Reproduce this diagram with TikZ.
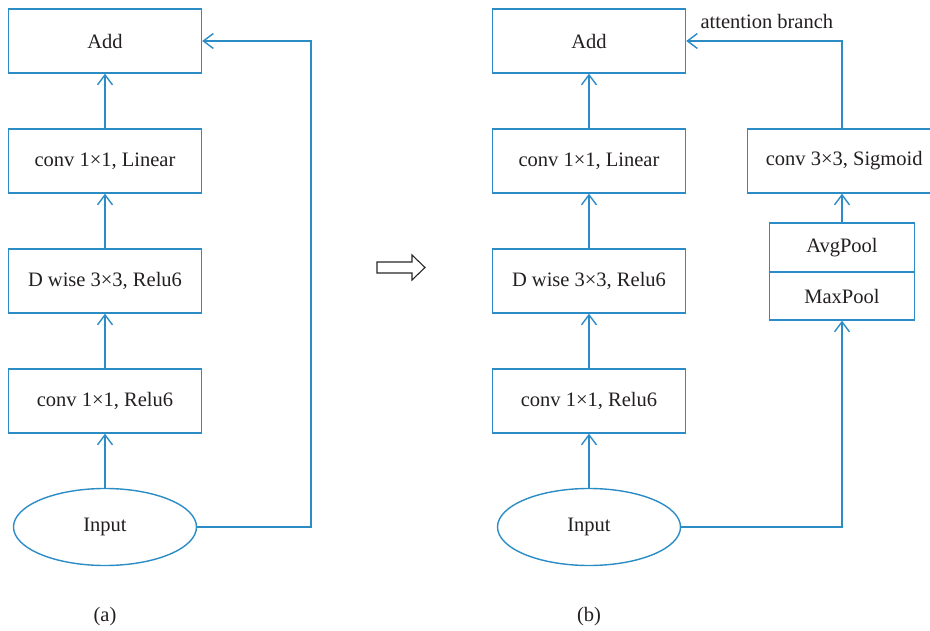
\documentclass[tikz,border=0pt]{standalone}
\usepackage{fontspec}
\setmainfont{Liberation Serif}
\usetikzlibrary{arrows.meta,shapes.geometric}
\definecolor{lineblue}{RGB}{43,140,198}
\definecolor{inkgray}{RGB}{35,31,32}
\tikzset{
  txt/.style={text=inkgray, font=\fontsize{20.5}{24}\selectfont},
  blk/.style={txt, draw=lineblue, line width=1.4pt, minimum width=193pt, minimum height=64pt,
              inner sep=0pt},
  inoval/.style={txt, draw=lineblue, line width=1.4pt, ellipse, minimum width=183pt, minimum height=77pt,
              inner sep=0pt},
  flow/.style={draw=lineblue, line width=1.4pt, -{Straight Barb[length=10pt,width=15pt,line width=1.4pt]}},
}
\begin{document}
\begin{tikzpicture}[x=1pt,y=-1pt]
\useasboundingbox (0,0) rectangle (930,631);

% (a) plain inverted residual block
\node[blk] (aadd) at (105,41) {Add};
\node[blk] (alin) at (105,161) {conv 1×1, Linear};
\node[blk] (adw)  at (105,281) {D wise 3×3, Relu6};
\node[blk] (arelu) at (105,401) {conv 1×1, Relu6};
\node[inoval] (ain) at (105,527) {Input};
\coordinate (askipb) at (311,527);
\coordinate (askipt) at (311,41);
\draw[flow] (ain) -- (arelu);
\draw[flow] (arelu) -- (adw);
\draw[flow] (adw) -- (alin);
\draw[flow] (alin) -- (aadd);
\draw[flow] (ain.east) -- (askipb) -- (askipt) -- (aadd.east);
\node[txt] (acap) at (105,617) {(a)};

% hollow arrow between the two variants
\draw[line width=1.1pt, black!85]
  (377,262) -- (412,262) -- (412,255) -- (425,267.5) -- (412,280) -- (412,273) -- (377,273) -- cycle;

% (b) block with attention branch
\node[blk] (badd) at (589,41) {Add};
\node[blk] (blin) at (589,161) {conv 1×1, Linear};
\node[blk] (bdw)  at (589,281) {D wise 3×3, Relu6};
\node[blk] (brelu) at (589,401) {conv 1×1, Relu6};
\node[inoval] (bin) at (589,527) {Input};
\draw[flow] (bin) -- (brelu);
\draw[flow] (brelu) -- (bdw);
\draw[flow] (bdw) -- (blin);
\draw[flow] (blin) -- (badd);

\node[blk, anchor=west] (bsig) at (747,161) {conv 3×3, Sigmoid};
\node[draw=lineblue, line width=1.4pt, minimum width=145pt, minimum height=97pt, inner sep=0pt] (bpool) at (842,271.5) {};
\draw[draw=lineblue, line width=1.4pt] (bpool.west |- 0,272) -- (bpool.east |- 0,272);
\node[txt] (bavg) at (842,248) {AvgPool};
\node[txt] (bmax) at (842,296) {MaxPool};

\coordinate (bturn) at (842,527);
\coordinate (btop) at (842,41);
\draw[flow] (bin.east) -- (bturn) -- (bpool.south);
\draw[flow] (bpool.north) -- (bpool.north |- bsig.south);
\draw[flow] (bpool.north |- bsig.north) -- (btop) -- (badd.east);
\node[txt, anchor=west] (battn) at (697,21) {attention branch};
\node[txt] (bcap) at (589,617) {(b)};
\end{tikzpicture}
\end{document}
